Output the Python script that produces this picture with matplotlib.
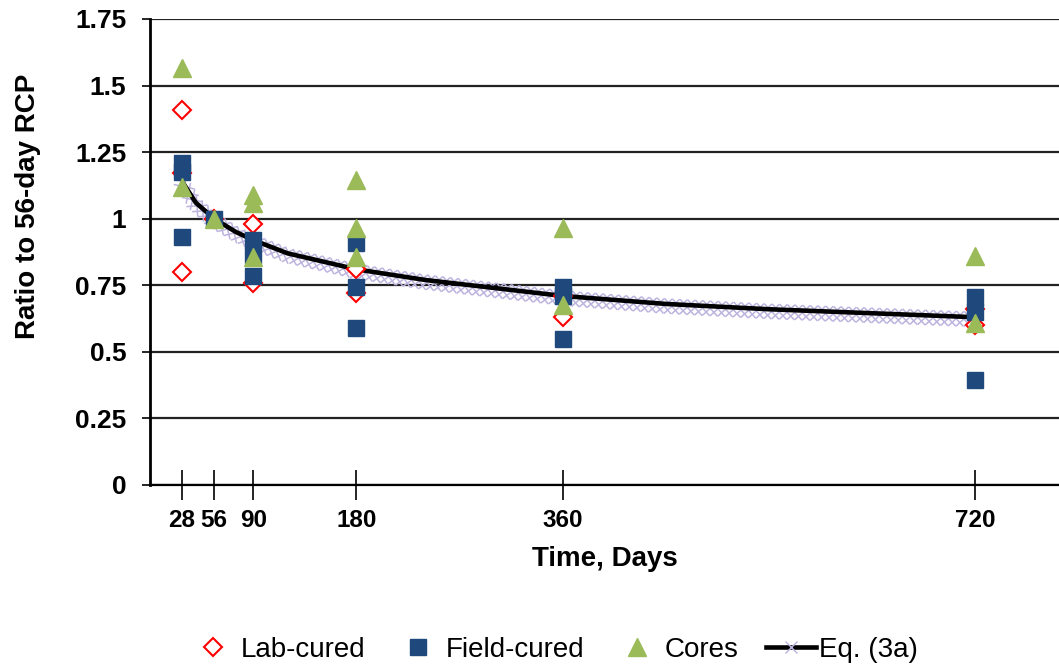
import matplotlib.pyplot as plt
import matplotlib.patheffects as pe
from matplotlib.lines import Line2D

plt.rcParams['font.family'] = ['Liberation Sans', 'DejaVu Sans']

# data
lab_days = [28, 28, 28, 56, 90, 90, 180, 180, 360, 360, 720, 720]
lab_ratio = [1.41, 1.17, 0.80, 1.00, 0.98, 0.76, 0.81, 0.72, 0.71, 0.63, 0.66, 0.60]

field_days = [28, 28, 28, 56, 90, 90, 90, 180, 180, 180, 360, 360, 360, 720, 720, 720]
field_ratio = [1.21, 1.175, 0.93, 1.00, 0.92, 0.865, 0.785, 0.91, 0.745, 0.59,
               0.745, 0.71, 0.55, 0.705, 0.65, 0.395]

core_days = [28, 28, 56, 90, 90, 90, 180, 180, 180, 360, 360, 720, 720]
core_ratio = [1.565, 1.12, 1.00, 1.09, 1.06, 0.855, 1.145, 0.965, 0.855, 0.965, 0.675, 0.86, 0.61]

eq_days = [28, 40, 56, 75, 90, 120, 150, 180, 240, 300, 360, 450, 540, 630, 720]
eq_ratio = [1.14, 1.06, 1.00, 0.95, 0.92, 0.87, 0.84, 0.81, 0.77, 0.74, 0.71, 0.68, 0.66, 0.645, 0.63]

xticks = [28, 56, 90, 180, 360, 720]
yticks = [0, 0.25, 0.5, 0.75, 1, 1.25, 1.5, 1.75]
ytick_labels = ['0', '0.25', '0.5', '0.75', '1', '1.25', '1.5', '1.75']

fig = plt.figure(figsize=(10.59, 6.68), dpi=100)
ax = fig.add_axes([150/1059, 1 - 485/668, 1 - 150/1059, (485 - 19)/668])

lav = '#bdb3df'
# hatched lavender band (chain of x's) along the equation curve
ticks_fx = [pe.withTickedStroke(angle=a, spacing=5.5, length=1.3, linewidth=1.1, foreground=lav)
            for a in (45, 135, -45, -135)]
ax.plot(eq_days, [v - 0.008 for v in eq_ratio], color='none', zorder=2, path_effects=ticks_fx)
ax.plot(eq_days, eq_ratio, color='black', lw=3.3, zorder=3, solid_capstyle='butt')

ax.plot(lab_days, lab_ratio, 'D', ms=9.5, mfc='white', mec='red', mew=1.5, ls='none', zorder=4)
ax.plot(field_days, field_ratio, 's', ms=11.5, color='#1f497d', ls='none', zorder=5)
ax.plot(core_days, core_ratio, '^', ms=12.5, color='#9bbb59', ls='none', zorder=6)

ax.set_xlim(0, 793)
ax.set_ylim(0, 1.75)
ax.set_yticks(yticks)
ax.set_yticklabels(ytick_labels)
ax.set_xticks(xticks)
ax.yaxis.grid(True, color='#222222', lw=1.6)
ax.set_axisbelow(True)
for s in ['top', 'right']:
    ax.spines[s].set_visible(False)
ax.spines['left'].set_linewidth(2)
ax.spines['bottom'].set_linewidth(1.6)
ax.tick_params(axis='y', length=6, width=1.2, labelsize=19, pad=11)
ax.tick_params(axis='x', direction='inout', length=21, width=1.2, labelsize=17.5, pad=7)
for t in ax.get_xticklabels() + ax.get_yticklabels():
    t.set_fontweight('bold')

ax.set_xlabel('Time, Days', fontsize=20, fontweight='bold', labelpad=10)
ax.set_ylabel('Ratio to 56-day RCP', fontsize=20, fontweight='bold')
ax.yaxis.set_label_coords(-0.120, 0.599)

handles = [
    Line2D([], [], marker='D', ms=9.5, mfc='white', mec='red', mew=1.5, ls='none'),
    Line2D([], [], marker='s', ms=11.5, color='#1f497d', ls='none'),
    Line2D([], [], marker='^', ms=12.5, color='#9bbb59', ls='none'),
    Line2D([], [], color='black', lw=3.3, marker='x', mec=lav, ms=8),
]
fig.legend(handles, ['Lab-cured', 'Field-cured', 'Cores', 'Eq. (3a)'], loc='center',
           bbox_to_anchor=(0.522, 0.027), ncol=4, frameon=False, fontsize=20,
           handlelength=1.8, columnspacing=1.0, handletextpad=0.1, borderpad=0)

fig.savefig('out.png', dpi=100)
